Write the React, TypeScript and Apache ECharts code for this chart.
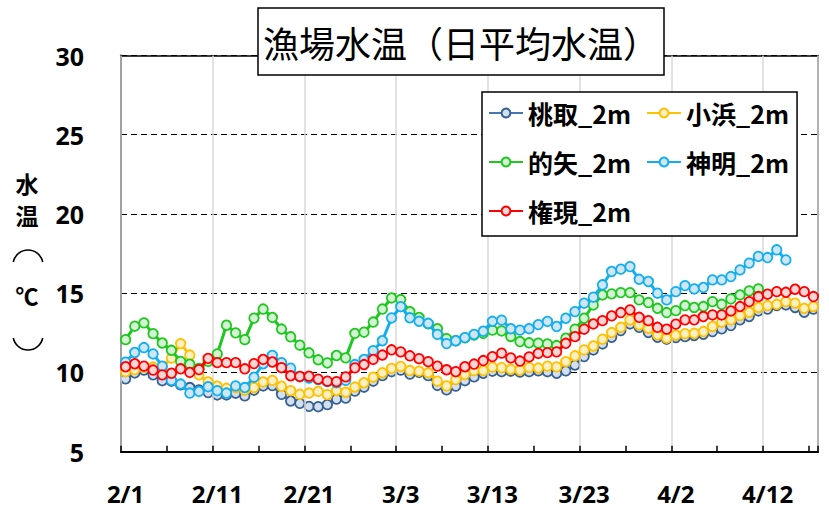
import React, { useEffect, useRef } from 'react';
import * as echarts from 'echarts';

const dates = [
  '2/1','2/2','2/3','2/4','2/5','2/6','2/7','2/8','2/9','2/10',
  '2/11','2/12','2/13','2/14','2/15','2/16','2/17','2/18','2/19','2/20',
  '2/21','2/22','2/23','2/24','2/25','2/26','2/27','2/28','3/1','3/2',
  '3/3','3/4','3/5','3/6','3/7','3/8','3/9','3/10','3/11','3/12',
  '3/13','3/14','3/15','3/16','3/17','3/18','3/19','3/20','3/21','3/22',
  '3/23','3/24','3/25','3/26','3/27','3/28','3/29','3/30','3/31','4/1',
  '4/2','4/3','4/4','4/5','4/6','4/7','4/8','4/9','4/10','4/11',
  '4/12','4/13','4/14','4/15','4/16','4/17'
];

const momotori = [
  9.6, 9.97, 10.15, 9.85, 9.48, 9.45, 9.22, 9.05, 8.9, 8.73,
  8.58, 8.58, 8.69, 8.52, 8.88, 9.15, 9.17, 8.62, 8.2, 8.05,
  7.86, 7.84, 7.97, 8.32, 8.38, 8.82, 9.07, 9.45, 9.8, 10.05,
  10.15, 9.9, 10.0, 9.8, 9.18, 8.9, 9.14, 9.48, 9.72, 9.95,
  10.08, 10.05, 10.08, 10.02, 10.05, 10.1, 10.05, 9.95, 10.1, 10.47,
  11.0, 11.42, 11.8, 12.22, 12.64, 13.06, 12.85, 12.52, 12.22, 12.1,
  12.2, 12.26, 12.33, 12.41, 12.58, 12.75, 12.96, 13.32, 13.53, 13.88,
  14.0, 14.22, 14.26, 14.1, 13.8, 14.0
];

const obama = [
  10.05, 10.18, 10.33, 10.34, 10.35, 10.9, 11.82, 11.1, 9.85, 9.4,
  9.13, 9.0, 9.05, 8.88, 9.05, 9.4, 9.5, 9.13, 8.85, 8.62,
  8.7, 8.8, 8.6, 8.86, 8.75, 9.08, 9.35, 9.7, 9.98, 10.26,
  10.38, 10.12, 10.08, 9.98, 9.45, 9.15, 9.55, 9.87, 10.12, 10.12,
  10.34, 10.3, 10.2, 10.15, 10.32, 10.28, 10.4, 10.35, 10.68, 11.05,
  11.42, 11.67, 12.1, 12.52, 12.85, 13.32, 13.0, 12.79, 12.37, 12.16,
  12.35, 12.45, 12.47, 12.58, 12.9, 13.17, 13.32, 13.59, 13.8, 14.1,
  14.22, 14.3, 14.47, 14.37, 14.05, 14.16
];

const matoya = [
  12.07, 12.92, 13.13, 12.45, 11.86, 11.4, 10.7, 10.52, 10.25, 10.7,
  11.17, 12.98, 12.5, 12.07, 13.43, 14.0, 13.47, 12.74, 12.25, 11.72,
  11.24, 10.8, 10.6, 11.07, 10.92, 12.46, 12.54, 13.18, 14.0, 14.7,
  14.6, 13.83, 13.47, 13.07, 12.76, 12.13, 12.0, 12.18, 12.36, 12.46,
  12.67, 12.62, 12.27, 11.95, 11.87, 11.85, 11.8, 11.7, 12.16, 12.73,
  13.42, 14.26, 14.89, 14.96, 15.04, 15.04, 14.58, 14.41, 14.05, 13.78,
  13.9, 14.22, 14.1, 14.16, 14.47, 14.3, 14.64, 14.89, 15.15, 15.27
];

const shinmei = [
  10.65, 11.26, 11.57, 11.17, 10.4, 9.5, 9.27, 8.7, 8.8, 9.1,
  8.85, 8.7, 9.15, 9.05, 9.7, 10.55, 11.08, 10.62, 10.27, 9.72,
  9.65, 9.55, 9.42, 9.35, 9.5, 10.5, 10.82, 11.38, 12.0, 13.44,
  14.15, 13.45, 13.23, 13.1, 12.4, 11.82, 12.0, 12.2, 12.4, 12.6,
  13.23, 13.3, 12.76, 12.67, 12.76, 13.02, 13.22, 12.9, 13.42, 13.84,
  14.37, 14.75, 15.53, 16.37, 16.52, 16.68, 15.88, 15.74, 15.0, 14.58,
  15.1, 15.48, 15.27, 15.36, 15.84, 15.84, 16.05, 16.47, 16.9, 17.32,
  17.25, 17.74, 17.1
];

const gongen = [
  10.36, 10.55, 10.4, 10.15, 9.85, 9.95, 10.23, 10.0, 10.18, 10.89,
  10.62, 10.62, 10.62, 10.23, 10.56, 10.82, 10.66, 10.3, 9.79, 9.75,
  9.76, 9.58, 9.45, 9.42, 9.72, 10.29, 10.5, 10.82, 11.1, 11.43,
  11.3, 11.05, 10.87, 10.68, 10.4, 10.17, 10.05, 10.36, 10.53, 10.75,
  11.0, 11.22, 10.92, 10.72, 10.98, 11.2, 11.25, 11.3, 11.84, 12.26,
  12.73, 13.06, 13.27, 13.57, 13.78, 13.95, 13.48, 13.27, 12.85, 12.73,
  13.05, 13.32, 13.32, 13.53, 13.63, 13.63, 13.88, 14.16, 14.47, 14.79,
  14.94, 15.1, 15.06, 15.25, 15.1, 14.79
];

const seriesNames = ['桃取_2m', '小浜_2m', '的矢_2m', '神明_2m', '権現_2m'];
const seriesData = [momotori, obama, matoya, shinmei, gongen];
const lineColors = ['#4676b4', '#ffc000', '#1ec81e', '#12aff0', '#ff0000'];
const borderColors = ['#35608f', '#ffc000', '#1ec81e', '#12aff0', '#ff0000'];
const fillColors = ['#d3dff0', '#fff0c4', '#d4f3d4', '#d0e6f7', '#ffd6d6'];

const FONT_NUM = '"Noto Sans", "DejaVu Sans", sans-serif';
const FONT_CJK = '"Noto Sans CJK JP", "Noto Sans", sans-serif';

export default function App() {
  const ref = useRef<HTMLDivElement>(null);

  useEffect(() => {
    document.body.style.margin = '0';
    if (!ref.current) return;
    const chart = echarts.init(ref.current, undefined, { renderer: 'svg' });
    const series = seriesNames.map((name, i) => ({
      name,
      type: 'line',
      data: seriesData[i],
      symbol: 'circle',
      symbolSize: 9.5,
      showSymbol: true,
      showAllSymbol: true,
      connectNulls: false,
      lineStyle: { color: lineColors[i], width: 3 },
      itemStyle: { color: fillColors[i], borderColor: borderColors[i], borderWidth: 1.8 },
      emphasis: { disabled: true },
      z: 2 + i,
    }));

    const gridBorder = { show: true, lineStyle: { color: '#000', width: 1.5 } };
    const nameFont = 'bold 23px "Noto Sans CJK JP"';

    chart.setOption({
      animation: false,
      backgroundColor: '#ffffff',
      title: {
        text: '漁場水温（日平均水温）',
        left: 258,
        top: 8,
        padding: [12, 5, 12, 5],
        borderColor: '#000',
        borderWidth: 1.5,
        backgroundColor: '#fff',
        textStyle: { fontSize: 36, lineHeight: 43, fontWeight: 'normal', color: '#000', fontFamily: FONT_CJK },
        z: 10,
      },
      legend: {
        left: 482,
        top: 92,
        width: 320,
        padding: [4, 8, 8, 6],
        itemGap: 15,
        itemWidth: 34,
        itemHeight: 11,
        borderColor: '#000',
        borderWidth: 1.5,
        backgroundColor: '#fff',
        textStyle: { fontSize: 25, lineHeight: 34, fontWeight: 'bold', color: '#000', fontFamily: FONT_CJK },
        data: seriesNames,
        z: 10,
      },
      grid: {
        left: 121,
        right: 11,
        top: 55.5,
        bottom: 57.3,
        show: false,
      },
      xAxis: [
        {
          type: 'category',
          data: dates,
          boundaryGap: true,
          axisLine: { show: true, lineStyle: { color: '#000', width: 2 } },
          axisTick: { show: true, interval: 4, inside: true, length: 6, lineStyle: { color: '#000', width: 1.5 } },
          splitLine: { show: true, interval: 9, lineStyle: { color: '#d9d9d9', width: 1.5 } },
          axisLabel: {
            interval: 9,
            margin: 30,
            fontSize: 24,
            fontWeight: 'bold',
            color: '#000',
            fontFamily: FONT_NUM,
          },
          z: 3,
        },
        {
          type: 'category',
          data: dates,
          position: 'top',
          boundaryGap: true,
          axisLine: gridBorder,
          axisTick: { show: false },
          axisLabel: { show: false },
          splitLine: { show: false },
        },
      ],
      yAxis: [
        {
          type: 'value',
          min: 5,
          max: 30,
          interval: 5,
          axisLine: { show: true, lineStyle: { color: '#000', width: 2 } },
          axisTick: { show: false },
          splitLine: { show: true, lineStyle: { color: '#000', width: 1.2, type: [6, 4] } },
          axisLabel: { margin: 37, fontSize: 25, fontWeight: 'bold', color: '#000', fontFamily: FONT_NUM },
        },
        {
          type: 'value',
          min: 5,
          max: 30,
          interval: 5,
          position: 'right',
          axisLine: gridBorder,
          axisTick: { show: false },
          axisLabel: { show: false },
          splitLine: { show: false },
        },
      ],
      graphic: [
        { type: 'text', x: 27, y: 183, style: { text: '水', font: nameFont, fill: '#000', align: 'center', verticalAlign: 'middle' } },
        { type: 'text', x: 27, y: 215, style: { text: '温', font: nameFont, fill: '#000', align: 'center', verticalAlign: 'middle' } },
        {
          type: 'arc',
          shape: { cx: 28, cy: 265, r: 15, startAngle: Math.PI + 0.2, endAngle: 2 * Math.PI - 0.2, clockwise: true },
          style: { stroke: '#000', lineWidth: 1.6, fill: null },
        },
        { type: 'text', x: 27, y: 295, style: { text: '℃', font: nameFont, fill: '#000', align: 'center', verticalAlign: 'middle' } },
        {
          type: 'arc',
          shape: { cx: 28, cy: 335, r: 15, startAngle: 0.2, endAngle: Math.PI - 0.2, clockwise: true },
          style: { stroke: '#000', lineWidth: 1.6, fill: null },
        },
      ],
      series,
    });

    return () => chart.dispose();
  }, []);

  return <div ref={ref} style={{ width: 829, height: 509 }} />;
}
